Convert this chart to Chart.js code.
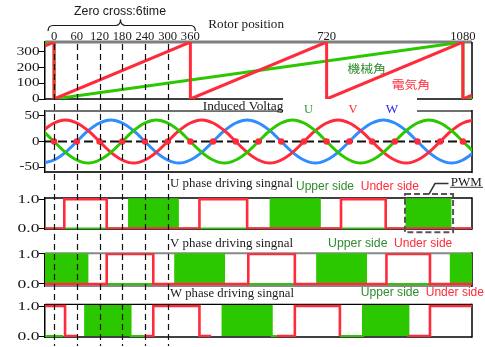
<!DOCTYPE html>
<html>
<head>
<meta charset="utf-8">
<title>Zero cross / driving signals</title>
<script src="https://cdn.jsdelivr.net/npm/chart.js@4.4.1/dist/chart.umd.min.js"></script>
<style>
  html, body { margin: 0; padding: 0; background: #fff; }
  #wrap { position: relative; width: 485px; height: 347px; overflow: hidden; background: #fff; }
  #wrap canvas { position: absolute; left: 0; top: 0; }
</style>
</head>
<body>
<div id="wrap">
  <canvas id="cRotor" width="485" height="347"></canvas>
  <canvas id="cVolt" width="485" height="347"></canvas>
  <canvas id="cU" width="485" height="347"></canvas>
  <canvas id="cV" width="485" height="347"></canvas>
  <canvas id="cW" width="485" height="347"></canvas>
</div>
<script>
// ---- electrical angle axis (degrees) ----
const angleMin = -24;
const angleMax = 1104;
const topTickAngles = [0, 60, 120, 180, 240, 300, 360, 720, 1080];
const zeroCrossAngles = [0, 60, 120, 180, 240, 300];
const crossingDots = [0, 60, 120, 180, 240, 300, 360, 420, 480, 540, 600, 660, 720, 780, 840, 900, 960, 1020, 1080];

// ---- tick labels of the left axes ----
const rotorTicks = [0, 100, 200, 300];
const voltTicks = [-50, 0, 50];
const driveTicks = [0, 1];

// ---- rotor position: [angle, value] ----
const elecAngle = [[-24, 336], [0, 360], [0, 0], [360, 360], [360, 0], [720, 360], [720, 0], [1080, 360], [1080, 0], [1104, 24]];
const mechAngle = [[-24, 352], [0, 360], [0, 0], [1080, 360], [1080, 0], [1104, 8]];

// ---- induced voltage, sampled every 30 degrees ----
const sineAngles = [-30, 0, 30, 60, 90, 120, 150, 180, 210, 240, 270, 300, 330, 360, 390, 420, 450, 480, 510, 540,
  570, 600, 630, 660, 690, 720, 750, 780, 810, 840, 870, 900, 930, 960, 990, 1020, 1050, 1080, 1110];
const voltU = [21, 0, -21, -36, -42, -36, -21, 0, 21, 36, 42, 36, 21, 0, -21, -36, -42, -36, -21, 0,
  21, 36, 42, 36, 21, 0, -21, -36, -42, -36, -21, 0, 21, 36, 42, 36, 21, 0, -21];
const voltV = [21, 36, 42, 36, 21, 0, -21, -36, -42, -36, -21, 0, 21, 36, 42, 36, 21, 0, -21, -36,
  -42, -36, -21, 0, 21, 36, 42, 36, 21, 0, -21, -36, -42, -36, -21, 0, 21, 36, 42];
const voltW = [-42, -36, -21, 0, 21, 36, 42, 36, 21, 0, -21, -36, -42, -36, -21, 0, 21, 36, 42, 36,
  21, 0, -21, -36, -42, -36, -21, 0, 21, 36, 42, 36, 21, 0, -21, -36, -42, -36, -21];

// ---- driving signals: [angle, level], null = pen lifted ----
const uUnder = [[-24, 0], [27, 0], [27, 1], [139, 1], [139, 0], [384, 0], [384, 1], [510, 1], [510, 0],
  [758, 0], [758, 1], [876, 1], [876, 0], [1104, 0]];
const uUpper = [[-24, 0], [198, 0], [198, 1], [327, 1], [327, 0], [572, 0], [572, 1], [702, 1], [702, 0],
  [931, 0], [931, 1], [1047, 1], [1047, 0], [1104, 0]];
const vUnder = [[-24, 0], [139, 0], [139, 1], [262, 1], [262, 0], [513, 0], [513, 1], [636, 1], [636, 0],
  [878, 0], [878, 1], [993, 1], [993, 0], [1104, 0]];
const vUpper = [[-24, 1], [88, 1], [88, 0], [320, 0], [320, 1], [449, 1], [449, 0], [695, 0], [695, 1],
  [824, 1], [824, 0], [1048, 0], [1048, 1], [1104, 1]];
const wUnder = [[-24, 1], [29, 1], [29, 0], [63, 0], null, [238, 0], [262, 0], [262, 1], [384, 1], [384, 0], [415, 0], null,
  [588, 0], [636, 0], [636, 1], [755, 1], [755, 0], null, [935, 0], [993, 0], [993, 1], [1104, 1]];
const wUpper = [[-24, 0], [24, 0], null, [82, 0], [82, 1], [202, 1], [202, 0], [238, 0], null,
  [445, 0], [445, 1], [575, 1], [575, 0], [588, 0], null, [755, 0], [816, 0], [816, 1], [936, 1], [936, 0], [940, 0]];

// PWM marker around the last U upper-side block (angle / level)
const pwmBox = { a0: 927, a1: 1054, lo: -0.13, hi: 1.18 };

// ---- styling ----
const SERIF = '"Liberation Serif","Times New Roman",serif';
const SANS = '"Liberation Sans",Arial,sans-serif';
const CJK = '"Noto Sans CJK JP","Noto Sans CJK SC",sans-serif';
const RED = '#ff2b3b';
const GREEN = '#2bc800';
const BLUE = '#2f8dff';
const DKGREEN = '#2e8b2e';
const INK = '#1a1a1a';
const W = 485, H = 347;

function pts(pairs) {
  let lastX = angleMin;
  return pairs.map(p => {
    if (!p) return { x: lastX, y: null };
    lastX = p[0];
    return { x: p[0], y: p[1] };
  });
}
function sinePts(vals) { return sineAngles.map((a, i) => ({ x: a, y: vals[i] })); }

function seg(ctx, x1, y1, x2, y2, color, width, dash) {
  ctx.save();
  ctx.strokeStyle = color; ctx.lineWidth = width;
  ctx.setLineDash(dash || []);
  ctx.beginPath(); ctx.moveTo(x1, y1); ctx.lineTo(x2, y2); ctx.stroke();
  ctx.restore();
}

// text drawn with horizontal stretch (to a target width or by factor sx)
function txt(ctx, str, x, y, o) {
  ctx.save();
  ctx.font = o.font;
  ctx.fillStyle = o.color || INK;
  ctx.textBaseline = o.baseline || 'alphabetic';
  ctx.textAlign = 'left';
  const w = ctx.measureText(str).width;
  const sx = o.width ? o.width / w : (o.sx || 1);
  const ww = w * sx;
  let left = x;
  if (o.align === 'right') left = x - ww;
  else if (o.align === 'center') left = x - ww / 2;
  ctx.translate(left, y);
  ctx.scale(sx, 1);
  ctx.fillText(str, 0, 0);
  ctx.restore();
}

function yLabels(chart, fmt, size, sx) {
  const s = chart.scales.y;
  s.ticks.forEach(t => txt(chart.ctx, fmt(t.value), chart.chartArea.left - 5.5, s.getPixelForValue(t.value),
    { font: size + 'px ' + SERIF, align: 'right', sx: sx, baseline: 'middle' }));
}

function frame(chart, top, bottom) {
  const { ctx, chartArea: a } = chart;
  seg(ctx, a.left, a.top, a.right, a.top, top[0], top[1]);
  seg(ctx, a.left, a.bottom, a.right, a.bottom, bottom[0], bottom[1]);
  seg(ctx, a.right, a.top - top[1] / 2, a.right, a.bottom + bottom[1] / 2, '#000', 1.5);
}

function yScale(min, max, ticks) {
  return {
    min: min, max: max,
    afterBuildTicks: s => { s.ticks = ticks.map(v => ({ value: v })); },
    afterFit: s => { s.width = 45; s.paddingTop = 0; s.paddingBottom = 0; },
    ticks: { display: false },
    grid: { drawOnChartArea: false, drawTicks: true, tickLength: 6, color: '#000', lineWidth: 1 },
    border: { display: true, color: '#000', width: 1.5 }
  };
}

function makeChart(id, top, bottom, y, datasets, plugin) {
  return new Chart(document.getElementById(id), {
    type: 'line',
    data: { datasets: datasets },
    options: {
      responsive: false,
      animation: false,
      events: [],
      layout: { padding: { left: 0, right: W - 472, top: top, bottom: H - bottom } },
      plugins: { legend: { display: false }, tooltip: { enabled: false }, title: { display: false } },
      elements: {
        point: { radius: 0 },
        line: { tension: 0, borderCapStyle: 'butt', borderJoinStyle: 'miter' }
      },
      scales: {
        x: { type: 'linear', min: angleMin, max: angleMax, display: false },
        y: y
      }
    },
    plugins: [plugin]
  });
}

// drive panel datasets: under side (red) on top, upper side (green) filled below
function driveSets(under, upper) {
  return [
    { data: pts(under), borderColor: RED, borderWidth: 2.6, fill: false, order: 0 },
    { data: pts(upper), borderColor: GREEN, borderWidth: 2, backgroundColor: GREEN, fill: 'origin', order: 1 }
  ];
}

// ---------- rotor position ----------
makeChart('cRotor', 42, 99, yScale(0, 360, rotorTicks), [
  { data: pts(elecAngle), borderColor: RED, borderWidth: 3, order: 0 },
  { data: pts(mechAngle), borderColor: GREEN, borderWidth: 3, order: 1 }
], {
  id: 'rotorDecor',
  beforeDatasetsDraw(chart) {
    const { ctx, chartArea: a } = chart;
    seg(ctx, a.left, a.top, a.right, a.top, '#7f7f7f', 3);
    seg(ctx, a.right, a.top, a.right, a.bottom, '#000', 1.5);
    seg(ctx, a.left, a.bottom, 283, a.bottom, '#000', 1.5);
    seg(ctx, 417, a.bottom, a.right, a.bottom, '#000', 1.5);
  },
  afterDraw(chart) {
    const ctx = chart.ctx, x = chart.scales.x;
    yLabels(chart, v => String(v), 12.5, 1.22);
    topTickAngles.forEach(a => txt(ctx, String(a), x.getPixelForValue(a), 39.5,
      { font: '11.5px ' + SERIF, align: 'center', sx: 1.1 }));
    // brace over one electrical turn
    const l = x.getPixelForValue(0) - 6, r = x.getPixelForValue(360) + 5, m = 120.5, yb = 25.5;
    ctx.save();
    ctx.strokeStyle = INK; ctx.lineWidth = 1.2;
    ctx.beginPath();
    ctx.moveTo(l, yb + 5.5);
    ctx.quadraticCurveTo(l, yb, l + 5, yb);
    ctx.lineTo(m - 5, yb);
    ctx.quadraticCurveTo(m, yb, m, yb - 6);
    ctx.quadraticCurveTo(m, yb, m + 5, yb);
    ctx.lineTo(r - 5, yb);
    ctx.quadraticCurveTo(r, yb, r, yb + 5.5);
    ctx.stroke();
    ctx.restore();
    txt(ctx, 'Zero cross:6time', 120, 14.5, { font: '12px ' + SANS, align: 'center', width: 92 });
    txt(ctx, 'Rotor position', 208.3, 28.3, { font: '12px ' + SERIF, width: 75.7 });
    txt(ctx, '機械角', 347.3, 68.7, { font: '11.5px ' + CJK, width: 38.7, color: DKGREEN, baseline: 'middle' });
    txt(ctx, '電気角', 391.7, 84.5, { font: '11.5px ' + CJK, width: 38.3, color: RED, baseline: 'middle' });
  }
});

// ---------- induced voltage ----------
makeChart('cVolt', 111, 172, yScale(-59.3, 59.3, voltTicks), [
  { data: crossingDots.map(a => ({ x: a, y: 0 })), showLine: false, pointRadius: 3.2,
    pointBackgroundColor: RED, pointBorderColor: RED, pointBorderWidth: 0, order: 0 },
  { data: sinePts(voltU), borderColor: GREEN, borderWidth: 3, cubicInterpolationMode: 'monotone', order: 1 },
  { data: sinePts(voltV), borderColor: RED, borderWidth: 3, cubicInterpolationMode: 'monotone', order: 2 },
  { data: sinePts(voltW), borderColor: BLUE, borderWidth: 3, cubicInterpolationMode: 'monotone', order: 3 }
], {
  id: 'voltDecor',
  beforeDatasetsDraw(chart) {
    frame(chart, ['#6f6f6f', 2], ['#333', 2]);
  },
  beforeDatasetDraw(chart, args) {
    if (args.index !== 0) return;
    const { ctx, chartArea: a } = chart;
    const y0 = chart.scales.y.getPixelForValue(0);
    seg(ctx, a.left, y0, a.right, y0, '#111', 2, [9, 4]);
  },
  afterDraw(chart) {
    const ctx = chart.ctx;
    yLabels(chart, v => String(v), 12.5, 1.2);
    ctx.save();
    ctx.fillStyle = '#fff';
    ctx.fillRect(200, 100, 83.5, 10.2);
    ctx.fillRect(283, 100, 134, 13.5);
    ctx.restore();
    txt(ctx, 'Induced Voltag', 202.7, 110.3, { font: '12px ' + SERIF, width: 80.6 });
    txt(ctx, 'U', 308.5, 113, { font: '12.5px ' + SERIF, align: 'center', sx: 1.0, color: '#3a9a3a' });
    txt(ctx, 'V', 353, 113, { font: '12.5px ' + SERIF, align: 'center', sx: 1.0, color: '#ff2a2a' });
    txt(ctx, 'W', 392, 113, { font: '12.5px ' + SERIF, align: 'center', sx: 1.05, color: '#2a2ae6' });
  }
});

// ---------- U phase ----------
makeChart('cU', 198, 229, yScale(-0.017, 1.045, driveTicks), driveSets(uUnder, uUpper), {
  id: 'uDecor',
  beforeDatasetsDraw(chart) { frame(chart, ['#000', 1.3], ['#000', 1.3]); },
  afterDraw(chart) {
    const ctx = chart.ctx, x = chart.scales.x, y = chart.scales.y;
    yLabels(chart, v => v.toFixed(1), 13.5, 1.3);
    txt(ctx, 'U phase driving singnal', 170, 187, { font: '12.5px ' + SERIF, width: 123 });
    txt(ctx, 'Upper side', 296, 189.5, { font: '12px ' + SANS, width: 58, color: DKGREEN });
    txt(ctx, 'Under side', 360.7, 189.5, { font: '12px ' + SANS, width: 58.3, color: RED });
    // PWM marker
    const bx0 = x.getPixelForValue(pwmBox.a0), bx1 = x.getPixelForValue(pwmBox.a1);
    const by0 = y.getPixelForValue(pwmBox.hi), by1 = y.getPixelForValue(pwmBox.lo);
    ctx.save();
    ctx.strokeStyle = '#555'; ctx.lineWidth = 2; ctx.setLineDash([6, 3]);
    ctx.strokeRect(bx0, by0, bx1 - bx0, by1 - by0);
    ctx.setLineDash([]);
    ctx.strokeStyle = '#333'; ctx.lineWidth = 1.5;
    ctx.beginPath();
    ctx.moveTo(bx0 + 24, by0);
    ctx.lineTo(bx0 + 30, by0 - 10.5);
    ctx.lineTo(bx0 + 43.5, by0 - 10.5);
    ctx.stroke();
    ctx.lineWidth = 1;
    ctx.beginPath(); ctx.moveTo(450, 187.3); ctx.lineTo(483, 187.3); ctx.stroke();
    ctx.restore();
    txt(ctx, 'PWM', 450.7, 185.7, { font: '13px ' + SERIF, width: 31 });
  }
});

// ---------- V phase ----------
makeChart('cV', 253.3, 286, yScale(-0.067, 1.023, driveTicks), driveSets(vUnder, vUpper), {
  id: 'vDecor',
  beforeDatasetsDraw(chart) { frame(chart, ['#888', 2], ['#888', 2]); },
  afterDraw(chart) {
    const ctx = chart.ctx;
    yLabels(chart, v => v.toFixed(1), 13.5, 1.3);
    txt(ctx, 'V phase driving singnal', 170, 246.5, { font: '12.5px ' + SERIF, width: 123 });
    txt(ctx, 'Upper side', 328, 247, { font: '12px ' + SANS, width: 59.5, color: DKGREEN });
    txt(ctx, 'Under side', 394, 247, { font: '12px ' + SANS, width: 58.3, color: RED });
  }
});

// ---------- W phase (top layer, also carries the zero-cross guides) ----------
makeChart('cW', 304.3, 337, yScale(-0.033, 1.057, driveTicks), driveSets(wUnder, wUpper), {
  id: 'wDecor',
  beforeDatasetsDraw(chart) { frame(chart, ['#000', 1.3], ['#000', 1.3]); },
  afterDraw(chart) {
    const ctx = chart.ctx, x = chart.scales.x;
    yLabels(chart, v => v.toFixed(1), 13.5, 1.3);
    txt(ctx, 'W phase driving singnal', 170, 297, { font: '12.5px ' + SERIF, width: 124 });
    txt(ctx, 'Upper side', 360.7, 296, { font: '12px ' + SANS, width: 58.6, color: DKGREEN });
    txt(ctx, 'Under side', 425.7, 296, { font: '12px ' + SANS, width: 58.3, color: RED });
    zeroCrossAngles.forEach(a => {
      const px = Math.round(x.getPixelForValue(a)) + 0.5;
      seg(ctx, px, 44, px, 346, '#111', 1.2, [6, 4]);
    });
  }
});
</script>
</body>
</html>
